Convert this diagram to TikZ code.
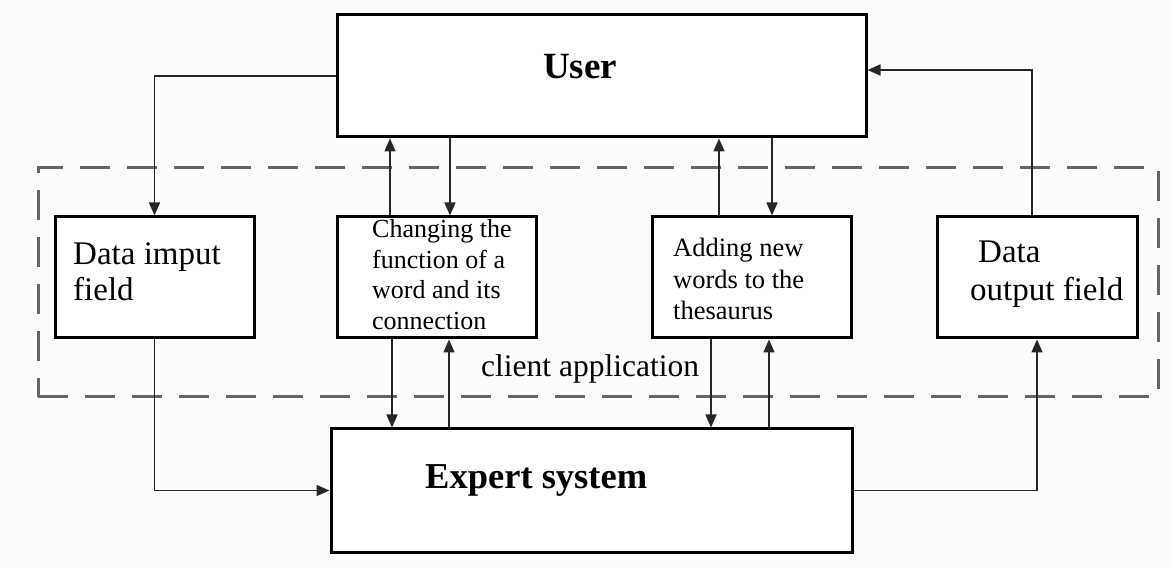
\documentclass[tikz,border=0pt]{standalone}
\usepackage{fontspec}
\setmainfont{Liberation Serif}
\usetikzlibrary{arrows.meta}
\begin{document}
\begin{tikzpicture}[x=1pt,y=-1pt,
  box/.style={draw=black, line width=3pt, fill=white, inner sep=0pt, outer sep=1.5pt},
  frame/.style={draw=black!60, line width=3pt, dash pattern=on 30pt off 17pt, inner sep=0pt},
  arr/.style={line width=1.6pt, draw=black!85, -{Triangle[length=13pt,width=11pt]}},
  lbl/.style={inner sep=0pt, anchor=base west, text=black},
]
\useasboundingbox[fill={rgb,255:red,252;green,252;blue,252}] (0,0) rectangle (1171,569);

% client application frame
\node[frame, minimum width=1120pt, minimum height=229pt] (client) at (598,282.5) {};

% boxes
\node[box, minimum width=529pt, minimum height=122pt] (user) at (601.5,76) {};
\node[box, minimum width=199pt, minimum height=121pt] (din)  at (154.5,277.5) {};
\node[box, minimum width=199pt, minimum height=121pt] (chg)  at (436.5,277.5) {};
\node[box, minimum width=199pt, minimum height=121pt] (add)  at (751.5,277.5) {};
\node[box, minimum width=200pt, minimum height=121pt] (dout) at (1037,277.5) {};
\node[box, minimum width=521pt, minimum height=123pt] (exp)  at (591.5,490.5) {};

% texts
\node[lbl] (usertxt) at (543,79) {\fontsize{37}{40}\selectfont\bfseries User};
\node[lbl] (exptxt) at (425,488) {\fontsize{36.5}{40}\selectfont\bfseries Expert system};
\node[lbl] (dintxt) at (73,265) {\fontsize{33}{36}\selectfont\parbox[t]{175pt}{\raggedright Data imput\\field}};
\node[lbl] (chgtxt) at (372,238) {\fontsize{26}{30.5}\selectfont\parbox[t]{160pt}{\raggedright Changing the\\function of a\\word and its\\connection}};
\node[lbl] (addtxt) at (673,257) {\fontsize{26.5}{31.5}\selectfont\parbox[t]{170pt}{\raggedright Adding new\\words to the\\thesaurus}};
\node[lbl] (douttxt) at (970,263) {\fontsize{33}{38}\selectfont\parbox[t]{165pt}{\raggedright \hspace*{8pt}Data\\output field}};
\node[lbl] (clienttxt) at (481,377) {\fontsize{31.5}{34}\selectfont client application};

% x positions of the vertical connectors
\coordinate (xa) at (390,0);
\coordinate (xb) at (450,0);
\coordinate (xc) at (719,0);
\coordinate (xd) at (772,0);
\coordinate (xe) at (1032,0);
\coordinate (xf) at (392,0);
\coordinate (xg) at (449,0);
\coordinate (xh) at (711,0);
\coordinate (xi) at (769,0);
\coordinate (yu) at (0,70);

% connectors
\draw[arr] (user.west) -| (din.north);
\draw[arr] (chg.north -| xa) -- (user.south -| xa);
\draw[arr] (user.south -| xb) -- (chg.north -| xb);
\draw[arr] (add.north -| xc) -- (user.south -| xc);
\draw[arr] (user.south -| xd) -- (add.north -| xd);
\draw[arr] (dout.north -| xe) -- (xe |- yu) -- (user.east |- yu);

\draw[arr] (din.south) |- (exp.west);
\draw[arr] (chg.south -| xf) -- (exp.north -| xf);
\draw[arr] (exp.north -| xg) -- (chg.south -| xg);
\draw[arr] (add.south -| xh) -- (exp.north -| xh);
\draw[arr] (exp.north -| xi) -- (add.south -| xi);
\draw[arr] (exp.east) -| (dout.south);
\end{tikzpicture}
\end{document}
